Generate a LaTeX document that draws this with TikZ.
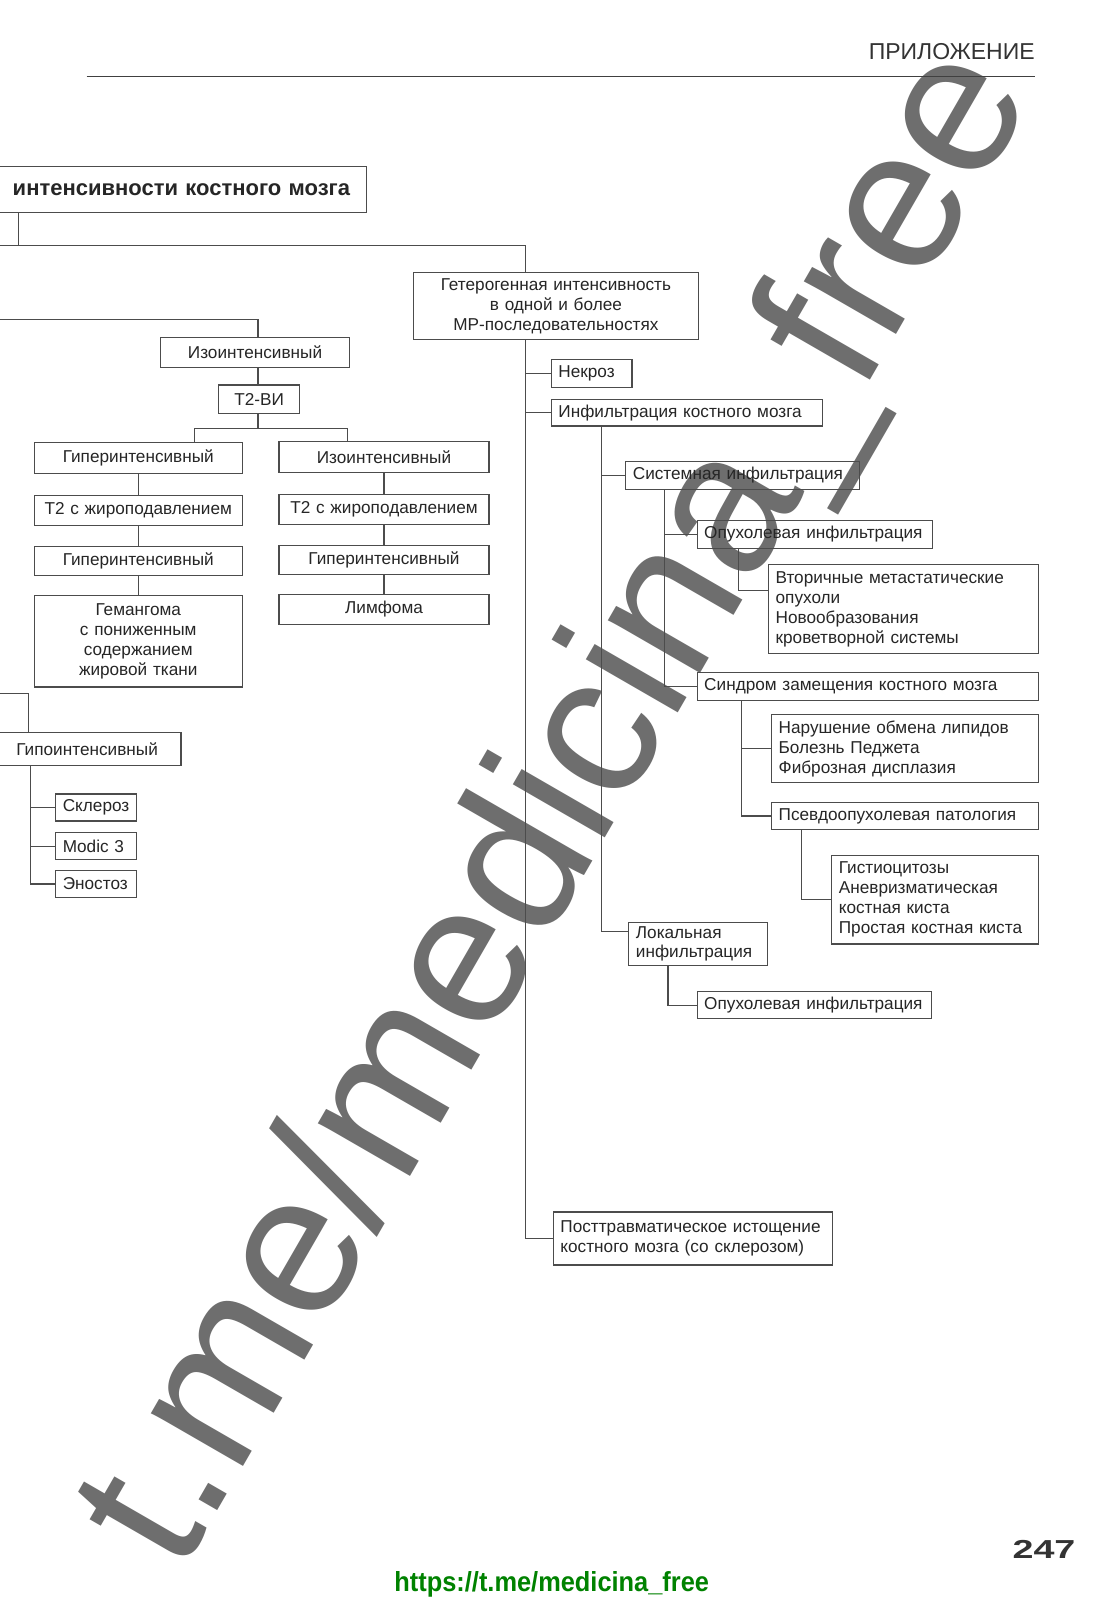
\documentclass[tikz,border=0pt]{standalone}
\usepackage{fontspec}
\setmainfont{Liberation Sans}
\usepackage{xcolor}
\definecolor{urlgreen}{RGB}{0,130,0}

\begin{document}
\begin{tikzpicture}[x=0.51pt, y=-0.51pt,
  box/.style={draw=black!70, line width=0.6pt, text=black!85, anchor=north west,
    inner xsep=3.57pt, inner ysep=1pt, font=\fontsize{8.6}{10}\selectfont, align=left},
  cbox/.style={box, align=center},
  conn/.style={draw=black!70, line width=0.6pt}]
\useasboundingbox (0,0) rectangle (1083,1569);
\fill[white] (0,0) rectangle (1083,1569);

% Watermark (cut at the left)
\begin{scope}
\clip (73.5,0) rectangle (1083,1569);
\node[rotate=60, anchor=base west, text=black!57, inner sep=0pt,
  font=\fontsize{100.5}{108}\selectfont] (wm) at (176.5,1545) {t.me/medicina\_free};
\end{scope}

% Running head
\node[anchor=base east, inner sep=0pt, text=black!80, font=\fontsize{11.5}{13}\selectfont] (head) at (1015,58) {ПРИЛОЖЕНИЕ};
\draw[line width=0.75pt, black!75] (85,75) -- (1015,75);

% Title (cut at the page edge)
\node[cbox, anchor=north east, text width=178pt, minimum height=23pt,
  font=\bfseries\fontsize{11}{13}\selectfont] (title) at (360,163) {интенсивности костного мозга};

% Trunk positions
\coordinate (tk) at (515,0);
\coordinate (tkA) at (590,0);
\coordinate (tkB) at (652,0);
\coordinate (tkC) at (724,0);
\coordinate (tkD) at (727,0);
\coordinate (tkE) at (786,0);
\coordinate (tkF) at (655,0);
\coordinate (tkL) at (30,0);
\coordinate (cx) at (253,0);
\coordinate (j0) at (18,241);
\coordinate (in0) at (0,241);
\coordinate (in1) at (0,313);
\coordinate (in2) at (0,680);
\coordinate (jl) at (28,680);
\coordinate (sL) at (191,420);
\coordinate (sR) at (341,420);

% Heterogeneous branch
\node[cbox, text width=135.2pt, minimum height=33.2pt] (het) at (405,267) {Гетерогенная интенсивность\\в одной и более\\МР-последовательностях};
\node[box, text width=33.2pt, minimum height=13.8pt] (necro) at (540,352) {Некроз};
\node[box, text width=128.5pt, minimum height=13.3pt] (infil) at (540,391) {Инфильтрация костного мозга};
\node[box, text width=109.7pt, minimum height=13.8pt] (syst) at (613,452) {Системная инфильтрация};
\node[box, text width=110.7pt, minimum height=13.8pt] (tumA) at (683,510) {Опухолевая инфильтрация};
\node[box, text width=128pt, minimum height=44.4pt] (meta) at (753,553) {Вторичные метастатические\\опухоли\\Новообразования\\кроветворной системы};
\node[box, text width=163.7pt, minimum height=13.8pt] (repl) at (683,659) {Синдром замещения костного мозга};
\node[box, text width=126.5pt, minimum height=34.2pt] (lipid) at (756,700) {Нарушение обмена липидов\\Болезнь Педжета\\Фиброзная дисплазия};
\node[box, text width=126.5pt, minimum height=13.8pt] (pseudo) at (756,786) {Псевдоопухолевая патология};
\node[box, text width=96.4pt, minimum height=44.4pt] (hist) at (815,838) {Гистиоцитозы\\Аневризматическая\\костная киста\\Простая костная киста};
\node[box, text width=62.2pt, minimum height=21.4pt] (local) at (616,904) {Локальная\\инфильтрация};
\node[box, text width=110.2pt, minimum height=13.3pt] (tumB) at (683,972) {Опухолевая инфильтрация};
\node[box, text width=132.6pt, minimum height=26.5pt] (post) at (542,1188) {Посттравматическое истощение\\костного мозга (со склерозом)};

% Isointense branch
\node[cbox, text width=87.2pt, minimum height=15.3pt] (iso) at (157,330) {Изоинтенсивный};
\node[cbox, text width=33.2pt, minimum height=14.3pt] (t2vi) at (214,377) {Т2-ВИ};
\node[cbox, text width=96.9pt, minimum height=15.8pt] (hypL) at (33,433) {Гиперинтенсивный};
\node[cbox, text width=96.9pt, minimum height=15.3pt] (fsL) at (33,485) {Т2 с жироподавлением};
\node[cbox, text width=96.9pt, minimum height=14.8pt] (hypLb) at (33,535) {Гиперинтенсивный};
\node[cbox, text width=96.9pt, minimum height=45.9pt] (hem) at (33,583) {Гемангома\\с пониженным\\содержанием\\жировой ткани};
\node[cbox, text width=97.9pt, minimum height=15.8pt] (isoR) at (273,432) {Изоинтенсивный};
\node[cbox, text width=97.9pt, minimum height=15.3pt] (fsR) at (273,484) {Т2 с жироподавлением};
\node[cbox, text width=97.9pt, minimum height=14.8pt] (hypR) at (273,534) {Гиперинтенсивный};
\node[cbox, text width=97.9pt, minimum height=15.3pt] (lymph) at (273,582) {Лимфома};

% Hypointense branch
\node[cbox, anchor=north east, text width=86.7pt, minimum height=16.3pt] (hypo) at (178,718) {Гипоинтенсивный};
\node[box, text width=33.2pt, minimum height=13.5pt] (scl) at (54,778) {Склероз};
\node[box, text width=33.2pt, minimum height=13.5pt] (modic) at (54,816) {Modic 3};
\node[box, text width=33.2pt, minimum height=13.5pt] (enost) at (54,853) {Эностоз};

% Connectors
\draw[conn] (title.south -| j0) -- (j0);
\draw[conn] (in0) -| (het.north -| tk);
\draw[conn] (het.south -| tk) |- (post.west);
\draw[conn] (necro.west -| tk) -- (necro.west);
\draw[conn] (infil.west -| tk) -- (infil.west);
\draw[conn] (infil.south -| tkA) |- ([yshift=6pt]local.west);
\draw[conn] (syst.west -| tkA) -- (syst.west);
\draw[conn] (syst.south -| tkB) |- (repl.west);
\draw[conn] (tumA.west -| tkB) -- (tumA.west);
\draw[conn] (tumA.south -| tkC) |- ([yshift=9.4pt]meta.west);
\draw[conn] (repl.south -| tkD) |- (pseudo.west);
\draw[conn] (lipid.west -| tkD) -- (lipid.west);
\draw[conn] (pseudo.south -| tkE) |- (hist.west);
\draw[conn] (local.south -| tkF) |- (tumB.west);

\draw[conn] (in1) -| (iso.north -| cx);
\draw[conn] (iso.south -| cx) -- (t2vi.north -| cx);
\draw[conn] (t2vi.south -| cx) -- (sL -| cx);
\draw[conn] (hypL.north -| sL) -- (sL) -- (sR) -- (isoR.north -| sR);
\foreach \a/\b in {hypL/fsL, fsL/hypLb, hypLb/hem, isoR/fsR, fsR/hypR, hypR/lymph}
  \draw[conn] (\a.south) -- (\b.north);

\draw[conn] (in2) -- (jl) -- (hypo.north -| jl);
\draw[conn] (hypo.south -| tkL) |- (enost.west);
\foreach \n in {scl, modic}
  \draw[conn] (\n.west -| tkL) -- (\n.west);

% Page number and link
\node[anchor=base east, inner sep=0pt, text=black!80, font=\bfseries\fontsize{13}{15}\selectfont] (pnum) at (1055,1528) {\scalebox{1.45}[1]{247}};
\node[anchor=base, inner sep=0pt, text=urlgreen, font=\bfseries\fontsize{13.8}{16}\selectfont] (url) at (541,1561) {\scalebox{0.92}[1]{https://t.me/medicina\_free}};

\end{tikzpicture}
\end{document}
